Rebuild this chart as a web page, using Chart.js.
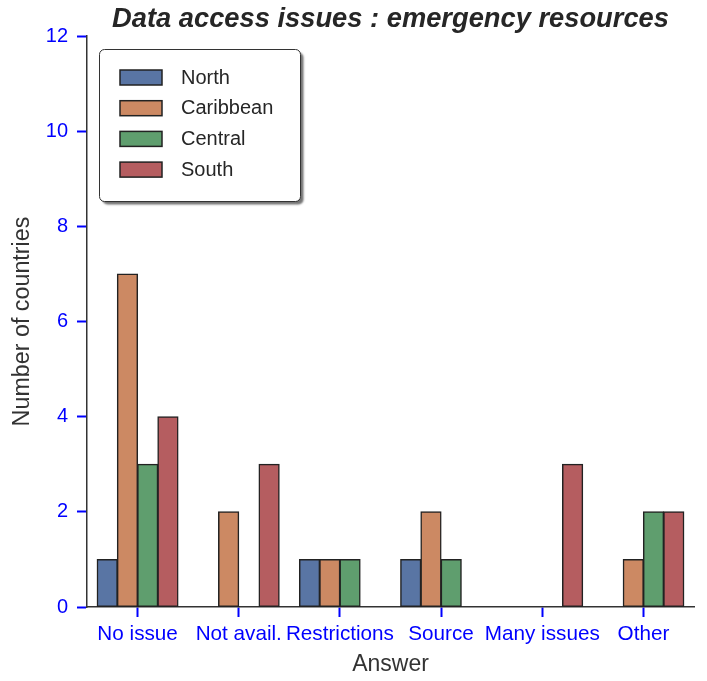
<!DOCTYPE html>
<html>
<head>
<meta charset="utf-8">
<title>Data access issues : emergency resources</title>
<script src="https://cdn.jsdelivr.net/npm/chart.js@4.4.1/dist/chart.umd.min.js"></script>
<style>
  html, body { margin: 0; padding: 0; background: #fff; }
</style>
</head>
<body>
<canvas id="accessChart" width="707" height="681"></canvas>
<script>
// values
const answers = ["No issue", "Not avail.", "Restrictions", "Source", "Many issues", "Other"];
const north = [1, 0, 1, 1, 0, 0];
const caribbean = [7, 2, 1, 2, 0, 1];
const central = [3, 0, 1, 1, 0, 2];
const south = [4, 3, 0, 0, 3, 2];
const yTicks = [0, 2, 4, 6, 8, 10, 12];

const FONT = "'Liberation Sans', Arial, Helvetica, sans-serif";
Chart.defaults.font.family = FONT;

const series = [
  { label: "North", data: north, color: "#5975a4" },
  { label: "Caribbean", data: caribbean, color: "#cc8963" },
  { label: "Central", data: central, color: "#5f9e6e" },
  { label: "South", data: south, color: "#b55d60" },
];

// title centred over the plot area, not the canvas
const plotTitle = {
  id: "plotTitle",
  afterDraw(chart) {
    const { ctx, chartArea } = chart;
    ctx.save();
    ctx.font = "italic bold 27.3px " + FONT;
    ctx.fillStyle = "#262626";
    ctx.textAlign = "center";
    ctx.textBaseline = "middle";
    ctx.fillText("Data access issues : emergency resources", (chartArea.left + chartArea.right) / 2, 19);
    ctx.restore();
  },
};

// framed legend with drop shadow (upper left)
const boxLegend = {
  id: "boxLegend",
  afterDatasetsDraw(chart) {
    const { ctx, chartArea } = chart;
    const x = chartArea.left + 12, y = chartArea.top + 13;
    const w = 201, h = 152;
    ctx.save();
    ctx.fillStyle = "#fff";
    ctx.shadowColor = "rgba(0,0,0,0.55)";
    ctx.shadowOffsetX = 3;
    ctx.shadowOffsetY = 3;
    ctx.shadowBlur = 2;
    ctx.beginPath();
    ctx.roundRect(x + 0.5, y + 0.5, w, h, 5);
    ctx.fill();
    ctx.shadowColor = "transparent";
    ctx.strokeStyle = "#333";
    ctx.lineWidth = 1;
    ctx.stroke();

    ctx.font = "20px " + FONT;
    ctx.textBaseline = "middle";
    chart.data.datasets.forEach((ds, i) => {
      const sy = y + 21 + i * 30.7;
      ctx.fillStyle = ds.backgroundColor;
      ctx.fillRect(x + 21, sy, 42, 15);
      ctx.strokeStyle = "#222";
      ctx.lineWidth = 1.5;
      ctx.strokeRect(x + 21, sy, 42, 15);
      ctx.fillStyle = "#262626";
      ctx.fillText(ds.label, x + 82, sy + 8);
    });
    ctx.restore();
  },
};

new Chart(document.getElementById("accessChart"), {
  type: "bar",
  data: {
    labels: answers,
    datasets: series.map((s) => ({
      label: s.label,
      data: s.data,
      backgroundColor: s.color,
      borderColor: "#222",
      borderWidth: 1.5,
      borderSkipped: false,
      inflateAmount: 0.5,
      categoryPercentage: 0.8,
      barPercentage: 1.0,
    })),
  },
  options: {
    responsive: false,
    animation: false,
    layout: { padding: { top: 36, right: 13, left: 0, bottom: 0 } },
    plugins: {
      legend: { display: false },
      title: { display: false },
      tooltip: { enabled: false },
    },
    scales: {
      x: {
        type: "category",
        offset: true,
        grid: {
          offset: false,
          drawOnChartArea: false,
          drawTicks: true,
          tickLength: 10,
          tickColor: "#0000ff",
          tickWidth: 2,
        },
        border: { display: true, color: "#333", width: 1.5 },
        ticks: {
          color: "#0000ff",
          font: { size: 20.7 },
          padding: 5,
          autoSkip: false,
          maxRotation: 0,
          minRotation: 0,
        },
        title: {
          display: true,
          text: "Answer",
          color: "#333",
          font: { size: 23 },
          padding: { top: 0, bottom: 3 },
        },
        afterFit(scale) { scale.height = 74; },
      },
      y: {
        min: 0,
        max: 12,
        grid: {
          drawOnChartArea: false,
          drawTicks: true,
          tickLength: 10,
          tickColor: "#0000ff",
          tickWidth: 2,
        },
        border: { display: true, color: "#333", width: 1.5 },
        ticks: {
          color: "#0000ff",
          font: { size: 20 },
          padding: 9,
        },
        afterBuildTicks(scale) { scale.ticks = yTicks.map((v) => ({ value: v })); },
        title: {
          display: true,
          text: "Number of countries",
          color: "#333",
          font: { size: 23.3 },
          padding: { top: 9, bottom: 0 },
        },
        afterFit(scale) { scale.width = 87; },
      },
    },
  },
  plugins: [plotTitle, boxLegend],
});
</script>
</body>
</html>
